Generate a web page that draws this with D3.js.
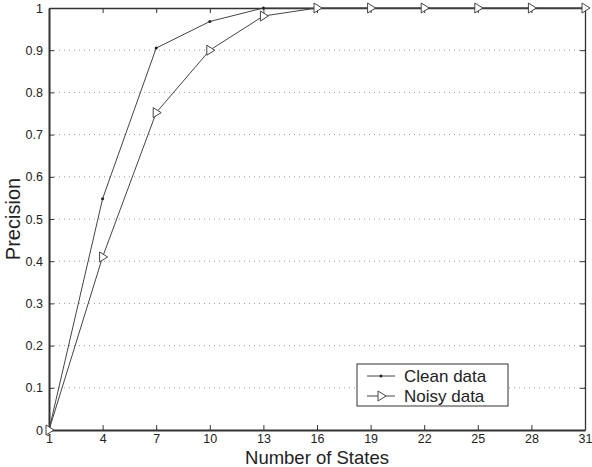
<!DOCTYPE html>
<html>
<head>
<meta charset="utf-8">
<script src="https://cdn.jsdelivr.net/npm/d3@7"></script>
<style>
  body { margin: 0; background: #fff; }
  text { font-family: "Liberation Sans", Arial, sans-serif; fill: #222; }
</style>
</head>
<body>
<div id="chart"></div>
<script>
// values
const states = [1, 4, 7, 10, 13, 16, 19, 22, 25, 28, 31];
const clean = [0, 0.548, 0.905, 0.968, 1, 1, 1, 1, 1, 1, 1];
const noisy = [0, 0.41, 0.752, 0.90, 0.981, 1, 1, 1, 1, 1, 1];
const yTicks = [0, 0.1, 0.2, 0.3, 0.4, 0.5, 0.6, 0.7, 0.8, 0.9, 1];
const seriesNames = ["Clean data", "Noisy data"];

let margin = {top: 8, right: 7, bottom: 37, left: 49};
let width = 592, height = 467;
let w = width - margin.left - margin.right;
let h = height - margin.top - margin.bottom;

let svg = d3.select("#chart").append("svg")
    .attr("width", width)
    .attr("height", height)
  .append("g")
    .attr("transform", "translate(" + margin.left + "," + margin.top + ")");

let x = d3.scaleLinear().domain([1, 31]).range([0, w]);
let y = d3.scaleLinear().domain([0, 1]).range([h, 0]);

// dotted horizontal grid
svg.selectAll(".grid")
    .data(yTicks.slice(1, -1))
    .join("line")
    .attr("class", "grid")
    .attr("x1", 0).attr("x2", w)
    .attr("y1", d => y(d)).attr("y2", d => y(d))
    .attr("stroke", "#999")
    .attr("stroke-width", 1)
    .attr("stroke-dasharray", "1,4");

// axes, ticks pointing inward
let fmt = d => d === 0 ? "0" : d3.format("")(d);
let xAxisB = svg.append("g").attr("transform", "translate(0," + h + ")")
    .call(d3.axisBottom(x).tickValues(states).tickSizeInner(-5).tickSizeOuter(0).tickPadding(4));
let xAxisT = svg.append("g")
    .call(d3.axisTop(x).tickValues(states).tickSizeInner(-5).tickSizeOuter(0).tickFormat(""));
let yAxisL = svg.append("g")
    .call(d3.axisLeft(y).tickValues(yTicks).tickSizeInner(-5).tickSizeOuter(0).tickPadding(6).tickFormat(fmt));
let yAxisR = svg.append("g").attr("transform", "translate(" + w + ",0)")
    .call(d3.axisRight(y).tickValues(yTicks).tickSizeInner(-5).tickSizeOuter(0).tickFormat(""));

[xAxisB, xAxisT, yAxisL, yAxisR].forEach(g => {
    g.select(".domain").attr("stroke", "#333").attr("stroke-width", 1.3);
    g.selectAll(".tick line").attr("stroke", "#333");
    g.selectAll("text").attr("font-size", 12.5).attr("font-family", "Liberation Sans, Arial, sans-serif").attr("fill", "#222");
});
yAxisL.select(".domain").attr("stroke-width", 2);
xAxisB.select(".domain").attr("stroke-width", 2);

// lines
let line = d3.line().x((d, i) => x(states[i])).y(d => y(d));

svg.append("path").datum(clean)
    .attr("d", line).attr("fill", "none")
    .attr("stroke", "#444").attr("stroke-width", 1);
svg.append("path").datum(noisy)
    .attr("d", line).attr("fill", "none")
    .attr("stroke", "#444").attr("stroke-width", 1);

// markers
svg.selectAll(".dot").data(clean).join("circle")
    .attr("class", "dot")
    .attr("cx", (d, i) => x(states[i])).attr("cy", d => y(d))
    .attr("r", 1.5).attr("fill", "#222");

let tri = "M-3,-5L5,0L-3,5Z";
svg.selectAll(".tri").data(noisy).join("path")
    .attr("class", "tri")
    .attr("transform", (d, i) => "translate(" + x(states[i]) + "," + y(d) + ")")
    .attr("d", tri)
    .attr("fill", "#fff").attr("stroke", "#444").attr("stroke-width", 1);

// axis labels
svg.append("text")
    .attr("x", x(16)).attr("y", h + 34)
    .attr("text-anchor", "middle")
    .attr("font-size", 18.5)
    .text("Number of States");
svg.append("text")
    .attr("transform", "translate(-29," + (h / 2) + ") rotate(-90)")
    .attr("text-anchor", "middle")
    .attr("font-size", 20)
    .text("Precision");

// legend
let lg = svg.append("g").attr("transform", "translate(" + (357 - margin.left) + "," + (364 - margin.top) + ")");
lg.append("rect")
    .attr("width", 151).attr("height", 42)
    .attr("fill", "#fff").attr("stroke", "#333").attr("stroke-width", 1);
seriesNames.forEach((name, i) => {
    let yy = 12 + i * 20;
    lg.append("line").attr("x1", 10).attr("x2", 38).attr("y1", yy).attr("y2", yy)
        .attr("stroke", "#444");
    if (i === 0) {
        lg.append("circle").attr("cx", 24).attr("cy", yy).attr("r", 1.5).attr("fill", "#222");
    } else {
        lg.append("path").attr("d", tri)
            .attr("transform", "translate(24," + yy + ")")
            .attr("fill", "#fff").attr("stroke", "#444");
    }
    lg.append("text").attr("x", 47).attr("y", yy + 6)
        .attr("font-size", 17).text(name);
});
</script>
</body>
</html>
